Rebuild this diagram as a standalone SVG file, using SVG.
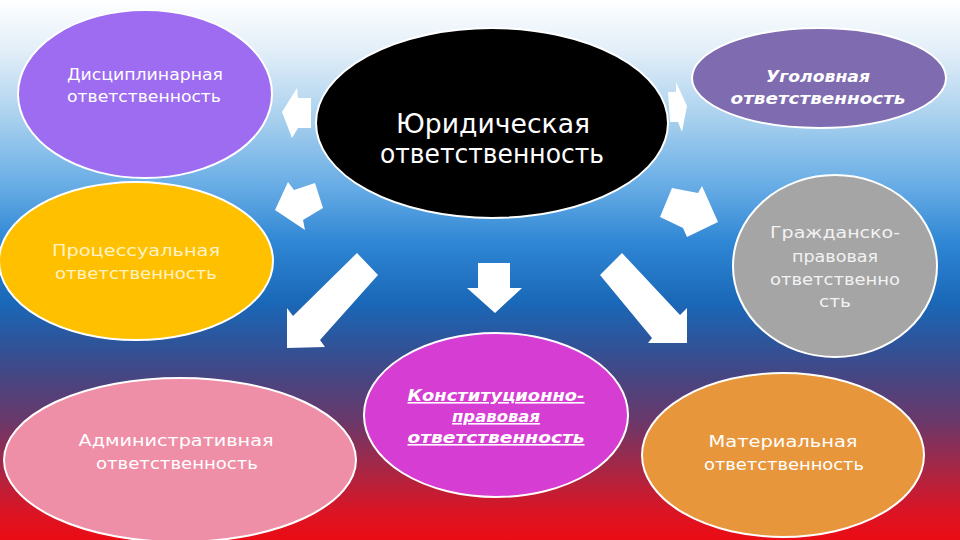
<svg xmlns="http://www.w3.org/2000/svg" width="960" height="540" viewBox="0 0 960 540">
<defs>
<linearGradient id="bg" x1="0" y1="0" x2="0" y2="1">
<stop offset="0" stop-color="#ffffff"/>
<stop offset="0.1" stop-color="#e0edf8"/>
<stop offset="0.22" stop-color="#a8d0ee"/>
<stop offset="0.34" stop-color="#6aaee6"/>
<stop offset="0.45" stop-color="#2e86d4"/>
<stop offset="0.56" stop-color="#1a68b8"/>
<stop offset="0.63" stop-color="#2c559c"/>
<stop offset="0.7" stop-color="#474582"/>
<stop offset="0.78" stop-color="#6a386a"/>
<stop offset="0.87" stop-color="#a82644"/>
<stop offset="0.95" stop-color="#dc1424"/>
<stop offset="1" stop-color="#ea0c14"/>
</linearGradient>
<style>
.n{stroke:#ffffff;stroke-width:2}
.t{font-family:"DejaVu Sans","Liberation Sans",sans-serif;fill:#ffffff;text-anchor:middle}
.b{font-weight:bold;font-style:italic}
.a{fill:#ffffff}
</style>
</defs>
<rect width="960" height="540" fill="url(#bg)"/>
<g id="connectors">
<polygon class="a" points="282,112 297,88 298,98 311,98 311,128 298,128 292,138"/>
<polygon class="a" points="687,106 676,82 676,92 668,92 670,122 678,122 682,132"/>
<polygon class="a" points="288,182 294,190 315,183 323,208 303,220 305,230 275,210"/>
<polygon class="a" points="672,188 698,193 702,186 718,222 687,237 683,228 660,217"/>
<polygon class="a" points="357,253 378,275 320,340 325,347 287,348 287,308 293,316"/>
<polygon class="a" points="622,253 600,275 652,338 648,343 687,343 687,308 680,315"/>
<polygon class="a" points="478,263 510,263 510,288 522,288 495,313 467,288 478,288"/>
</g>
<g id="center">
<ellipse class="n" cx="492" cy="123" rx="176" ry="95" fill="#000000"/>
<text class="t" x="493" y="133" font-size="26" textLength="194" lengthAdjust="spacingAndGlyphs">Юридическая</text>
<text class="t" x="492" y="163" font-size="26" textLength="224" lengthAdjust="spacingAndGlyphs">ответственность</text>
</g>
<g id="disc">
<ellipse class="n" cx="145" cy="94" rx="127" ry="84" fill="#9d6cf0"/>
<text class="t" x="145" y="80" font-size="16" textLength="156" lengthAdjust="spacingAndGlyphs">Дисциплинарная</text>
<text class="t" x="144" y="102" font-size="16" textLength="154" lengthAdjust="spacingAndGlyphs">ответственность</text>
</g>
<g id="crim">
<ellipse class="n" cx="819" cy="78" rx="127" ry="50" fill="#7e6bb0"/>
<text class="t b" x="818" y="82" font-size="16" textLength="104" lengthAdjust="spacingAndGlyphs">Уголовная</text>
<text class="t b" x="818" y="104" font-size="16" textLength="175" lengthAdjust="spacingAndGlyphs">ответственность</text>
</g>
<g id="proc">
<ellipse class="n" cx="136" cy="261" rx="137" ry="79" fill="#ffc000"/>
<text class="t" x="136" y="256" font-size="16" style="fill:#fff2c4" textLength="168" lengthAdjust="spacingAndGlyphs">Процессуальная</text>
<text class="t" x="136" y="279" font-size="16" style="fill:#fff2c4" textLength="162" lengthAdjust="spacingAndGlyphs">ответственность</text>
</g>
<g id="civil">
<ellipse class="n" cx="835" cy="266" rx="102" ry="91" fill="#a5a5a5"/>
<text class="t" x="835" y="238" font-size="16" style="fill:#f2f2f2" textLength="130" lengthAdjust="spacingAndGlyphs">Гражданско-</text>
<text class="t" x="835" y="262" font-size="16" style="fill:#f2f2f2" textLength="86" lengthAdjust="spacingAndGlyphs">правовая</text>
<text class="t" x="835" y="285" font-size="16" style="fill:#f2f2f2" textLength="130" lengthAdjust="spacingAndGlyphs">ответственно</text>
<text class="t" x="835" y="307" font-size="16" style="fill:#f2f2f2" textLength="32" lengthAdjust="spacingAndGlyphs">сть</text>
</g>
<g id="admin">
<ellipse class="n" cx="180" cy="460" rx="176" ry="82" fill="#ee8fa7"/>
<text class="t" x="176" y="446" font-size="16" textLength="195" lengthAdjust="spacingAndGlyphs">Административная</text>
<text class="t" x="177" y="469" font-size="16" textLength="162" lengthAdjust="spacingAndGlyphs">ответственность</text>
</g>
<g id="const">
<ellipse class="n" cx="496" cy="415" rx="132" ry="82" fill="#d63dd3"/>
<text class="t b" x="496" y="401" font-size="16" text-decoration="underline" textLength="177" lengthAdjust="spacingAndGlyphs">Конституционно-</text>
<text class="t b" x="496" y="422" font-size="16" text-decoration="underline" textLength="88" lengthAdjust="spacingAndGlyphs">правовая</text>
<text class="t b" x="496" y="443" font-size="16" text-decoration="underline" textLength="177" lengthAdjust="spacingAndGlyphs">ответственность</text>
</g>
<g id="mat">
<ellipse class="n" cx="783" cy="455" rx="141" ry="82" fill="#e8963c"/>
<text class="t" x="783" y="447" font-size="16" textLength="149" lengthAdjust="spacingAndGlyphs">Материальная</text>
<text class="t" x="784" y="470" font-size="16" textLength="160" lengthAdjust="spacingAndGlyphs">ответственность</text>
</g>
</svg>
